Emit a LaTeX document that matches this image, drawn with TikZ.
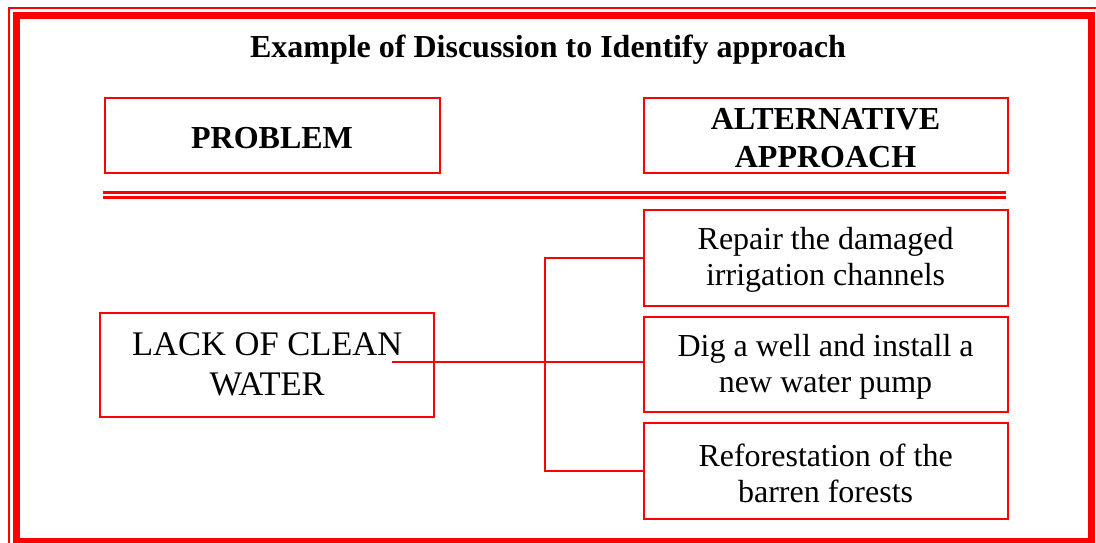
\documentclass[tikz,border=0pt]{standalone}
\usepackage{fontspec}
\setmainfont{Liberation Serif}
\begin{document}
\begin{tikzpicture}[x=1pt,y=-1pt,
  box/.style={draw=red,line width=2pt,rectangle,inner sep=0pt,align=center,text=black},
  headtxt/.style={font=\fontsize{32}{38}\selectfont\bfseries},
  bodytxt/.style={font=\fontsize{32}{36}\selectfont},
  bigtxt/.style={font=\fontsize{34.5}{40}\selectfont},
  conn/.style={draw=red,line width=2pt},
  rule/.style={draw=red,line width=2.5pt}]
\useasboundingbox (0,0) rectangle (1096,542);
% frame
\draw[red,line width=2pt] (9,8) rectangle (1110,560);
\draw[red,line width=7pt] (16.5,15.5) rectangle (1091.7,541.2);
% title
\node[headtxt] (title) at (548,50) {Example of Discussion to Identify approach};
% header boxes
\node[box,headtxt,minimum width=335pt,minimum height=75pt,text height=27pt,text depth=0pt] (prob) at (272,135.3) {PROBLEM};
\node[box,headtxt,minimum width=364pt,minimum height=75pt] (alt) at (825.5,135.7) {\rule{0pt}{26pt}ALTERNATIVE\\APPROACH};
% double rule
\coordinate (r1a) at (103.3,192.6);
\coordinate (r1b) at (1006,192.6);
\coordinate (r2a) at (103.3,197.6);
\coordinate (r2b) at (1006,197.6);
\draw[rule] (r1a) -- (r1b);
\draw[rule] (r2a) -- (r2b);
% problem box
\node[box,bigtxt,minimum width=334pt,minimum height=104pt] (lack) at (267.2,364.8) {LACK OF CLEAN\\WATER};
% alternatives
\node[box,bodytxt,minimum width=364pt,minimum height=96pt] (A) at (825.6,257.5) {\rule{0pt}{27pt}Repair the damaged\\irrigation channels};
\node[box,bodytxt,minimum width=364pt,minimum height=95.5pt] (B) at (825.6,364.3) {\rule{0pt}{27pt}Dig a well and install a\\new water pump};
\node[box,bodytxt,minimum width=364pt,minimum height=95.5pt] (C) at (825.6,471) {\rule{0pt}{27pt}Reforestation of the\\barren forests};
% connectors
\coordinate (start) at (391.7,362.3);
\coordinate (jn) at (545,362.3);
\draw[conn] (start) -- (start -| B.west);
\draw[conn] (A.west) -| (jn) |- (C.west);
\end{tikzpicture}
\end{document}
